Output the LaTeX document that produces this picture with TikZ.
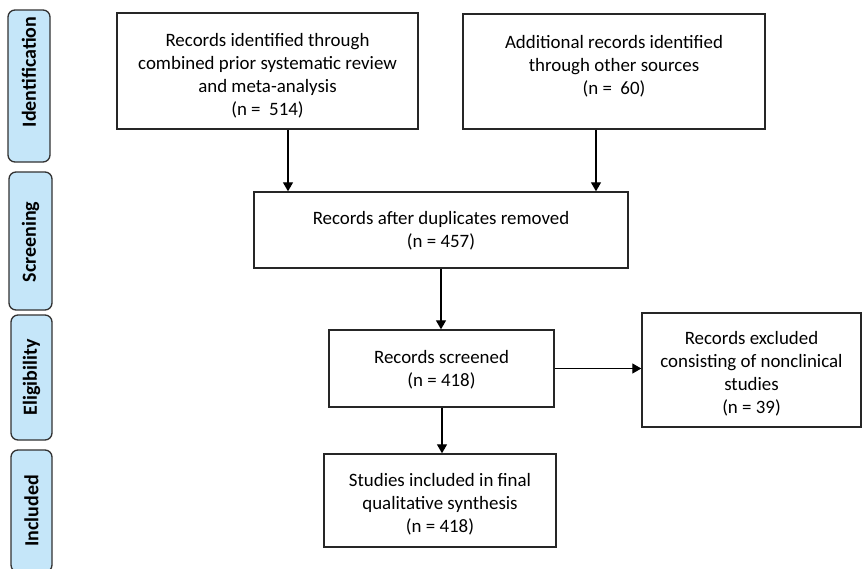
\documentclass[tikz,border=0pt]{standalone}
\usepackage{fontspec}
\setmainfont{Carlito}
\usetikzlibrary{arrows.meta}
\definecolor{phasefill}{RGB}{197,230,249}
\definecolor{phasedraw}{RGB}{50,50,50}
\tikzset{
  box/.style={draw=black!85, line width=1.4pt, fill=white, inner sep=0pt},
  txt/.style={inner sep=0pt, align=center, font=\fontsize{18.9}{23}\selectfont},
  phase/.style={draw=phasedraw, fill=phasefill, line width=1.3pt, rounded corners=7pt,
    rotate=90, inner sep=0pt},
  phasetext/.style={rotate=90, font=\fontsize{20}{22}\selectfont\bfseries, inner sep=0pt},
  arr/.style={line width=1.3pt, draw=black, -{Triangle[length=9pt,width=10pt]}}
}
\begin{document}
\begin{tikzpicture}[x=1pt,y=-1pt]
\useasboundingbox (0,0) rectangle (862,568);
\fill[white] (0,0) rectangle (862,568);
\begin{scope}
\clip (0,0) rectangle (862,568);
% phase labels
\node[phase, minimum width=152pt, minimum height=42pt] (p1) at (29,86) {};
\node[phasetext] (t1) at (29,72) {Identification};
\node[phase, minimum width=138pt, minimum height=43pt] (p2) at (30.5,241) {};
\node[phasetext] (t2) at (30.5,242) {Screening};
\node[phase, minimum width=125pt, minimum height=41pt] (p3) at (31.5,377.5) {};
\node[phasetext] (t3) at (31.5,377.5) {Eligibility};
\node[phase, minimum width=122pt, minimum height=41pt] (p4) at (31.5,511) {};
\node[phasetext] (t4) at (31.5,511) {Included};
\end{scope}
% boxes
\node[box, minimum width=301pt, minimum height=116pt] (b1) at (267.5,71) {};
\node[txt] (b1t) at ([yshift=-4.5pt]b1.center)
  {Records identified through\\combined prior systematic review\\and meta-analysis\\(n =\ \ 514)};
\node[box, minimum width=302pt, minimum height=115pt] (b2) at (614,71.5) {};
\node[txt] (b2t) at (614,66.5)
  {Additional records identified\\through other sources\\(n =\ \ 60)};
\node[box, minimum width=374pt, minimum height=76pt] (b3) at (441,230) {};
\node[txt] (b3t) at ([yshift=-1pt]b3.center) {Records after duplicates removed\\(n = 457)};
\node[box, minimum width=225pt, minimum height=77pt] (b4) at (441.5,368.5) {};
\node[txt] (b4t) at ([yshift=-1pt]b4.center) {Records screened\\(n = 418)};
\node[box, minimum width=219pt, minimum height=114pt] (b5) at (751.5,370) {};
\node[txt] (b5t) at ([yshift=-4pt]b5.center)
  {Records excluded\\consisting of nonclinical\\studies\\(n = 39)};
\node[box, minimum width=232pt, minimum height=93pt] (b6) at (440,500.5) {};
\node[txt] (b6t) at ([yshift=-4pt]b6.center)
  {Studies included in final\\qualitative synthesis\\(n = 418)};
% connectors
\coordinate (c1) at (288,0);
\coordinate (c2) at (596,0);
\coordinate (c3) at (441,0);
\coordinate (c5) at (442,0);
\draw[arr] (b1.south -| c1) -- (b3.north -| c1);
\draw[arr] (b2.south -| c2) -- (b3.north -| c2);
\draw[arr] (b3.south -| c3) -- (b4.north -| c3);
\draw[arr] (b4.east) -- (b4.east -| b5.west);
\draw[arr] (b4.south -| c5) -- (b6.north -| c5);
\end{tikzpicture}
\end{document}
